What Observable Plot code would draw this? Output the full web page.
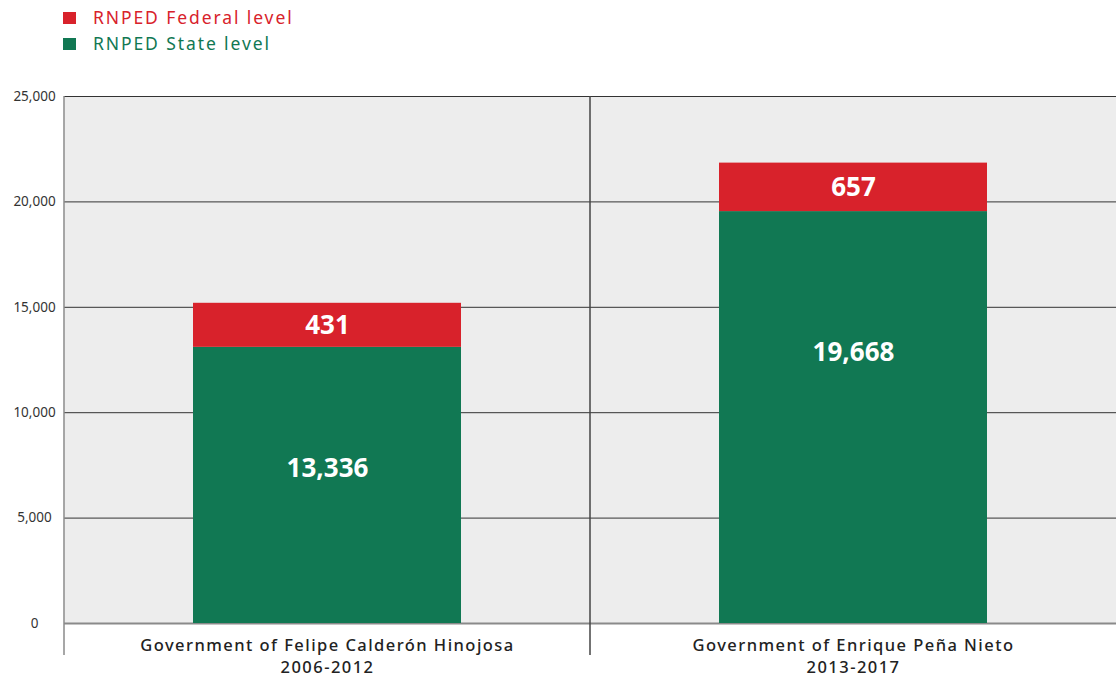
<!DOCTYPE html>
<html>
<head>
<meta charset="utf-8">
<script src="https://cdn.jsdelivr.net/npm/d3@7"></script>
<script src="https://cdn.jsdelivr.net/npm/@observablehq/plot@0.6"></script>
<style>
  html, body { margin: 0; padding: 0; background: #fff; }
  body { width: 1116px; height: 678px; overflow: hidden; font-family: "Noto Sans", sans-serif; }
  .legend { position: relative; height: 60px; }
  .legend .sw { position: absolute; left: 63px; width: 13px; height: 12px; }
  .legend .lb { position: absolute; left: 93px; font-size: 17.5px; line-height: 20px; font-weight: 400; letter-spacing: 1.9px; white-space: nowrap; }
  #chart svg { display: block; }
</style>
</head>
<body>
<div class="legend" id="legend"></div>
<div id="chart"></div>
<script>
const categories = ["Government of Felipe Calderón Hinojosa\n2006-2012", "Government of Enrique Peña Nieto\n2013-2017"];
const stateValues = [13100, 19540];
const federalValues = [2090, 2300];
const stateLabels = ["13,336", "19,668"];
const federalLabels = ["431", "657"];
const stateLabelY = [7350, 12860];
const yTicks = [0, 5000, 10000, 15000, 20000, 25000];
const seriesNames = ["RNPED Federal level", "RNPED State level"];
const seriesColors = ["#d8222b", "#117853"];

// Legend
const legend = document.getElementById("legend");
seriesNames.forEach((name, i) => {
  const sw = document.createElement("div");
  sw.className = "sw";
  sw.style.top = (12 + i * 26) + "px";
  sw.style.background = seriesColors[i];
  legend.appendChild(sw);
  const lb = document.createElement("div");
  lb.className = "lb";
  lb.style.top = (7 + i * 26) + "px";
  lb.style.color = seriesColors[i];
  lb.textContent = name;
  legend.appendChild(lb);
});

const rows = categories.map((c, i) => ({
  cat: c,
  state: stateValues[i],
  federal: federalValues[i],
  total: stateValues[i] + federalValues[i],
  stateLabel: stateLabels[i],
  federalLabel: federalLabels[i],
  stateLabelY: stateLabelY[i]
}));

const plot = Plot.plot({
  width: 1116,
  height: 618,
  marginTop: 36,
  marginBottom: 55,
  marginLeft: 64,
  marginRight: 0,
  style: { fontFamily: "'Noto Sans', sans-serif", background: "transparent", overflow: "visible" },
  x: { domain: categories, paddingInner: 0.49, paddingOuter: 0.245, axis: null },
  y: { domain: [0, 25000], axis: null },
  marks: [
    Plot.frame({ fill: "#ededed", stroke: null }),
    Plot.ruleY(yTicks.filter(d => d > 0), { stroke: "#333", strokeWidth: 1 }),
    Plot.ruleY([0], { stroke: "#8a8a8a", strokeWidth: 2 }),
    Plot.barY(rows, { x: "cat", y1: 0, y2: "state", fill: seriesColors[1] }),
    Plot.barY(rows, { x: "cat", y1: "state", y2: "total", fill: seriesColors[0] }),
    (index, scales, values, dimensions) => {
      const g = d3.create("svg:g");
      const yTop = scales.y(25000), yBot = scales.y(0) + 32;
      const left = dimensions.marginLeft;
      const mid = (dimensions.marginLeft + dimensions.width - dimensions.marginRight) / 2;
      g.append("line").attr("x1", left).attr("x2", left).attr("y1", yTop).attr("y2", yBot)
        .attr("stroke", "#8a8a8a").attr("stroke-width", 1.5);
      g.append("line").attr("x1", mid).attr("x2", mid).attr("y1", yTop).attr("y2", yBot)
        .attr("stroke", "#444").attr("stroke-width", 1.5);
      return g.node();
    },
    Plot.text(yTicks, { y: d => d, text: d => d3.format(",")(d), frameAnchor: "left", dx: -30, textAnchor: "middle", fontSize: 13.5, fill: "#333" }),
    Plot.text(rows, { x: "cat", y: d => d.state + d.federal / 2, text: "federalLabel", fill: "white", fontSize: 26, fontWeight: "bold" }),
    Plot.text(rows, { x: "cat", y: "stateLabelY", text: "stateLabel", fill: "white", fontSize: 26, fontWeight: "bold" }),
    Plot.text(rows, { x: "cat", y: 0, text: "cat", lineAnchor: "top", dy: 11, fontSize: 16.5, fontWeight: 500, fill: "#222", lineHeight: 1.38 })
  ]
});
// widen category labels (letter spacing like the reference typeface)
plot.querySelectorAll("text").forEach(t => {
  if (t.querySelector("tspan")) t.style.letterSpacing = "1.45px";
});
document.getElementById("chart").appendChild(plot);
</script>
</body>
</html>
